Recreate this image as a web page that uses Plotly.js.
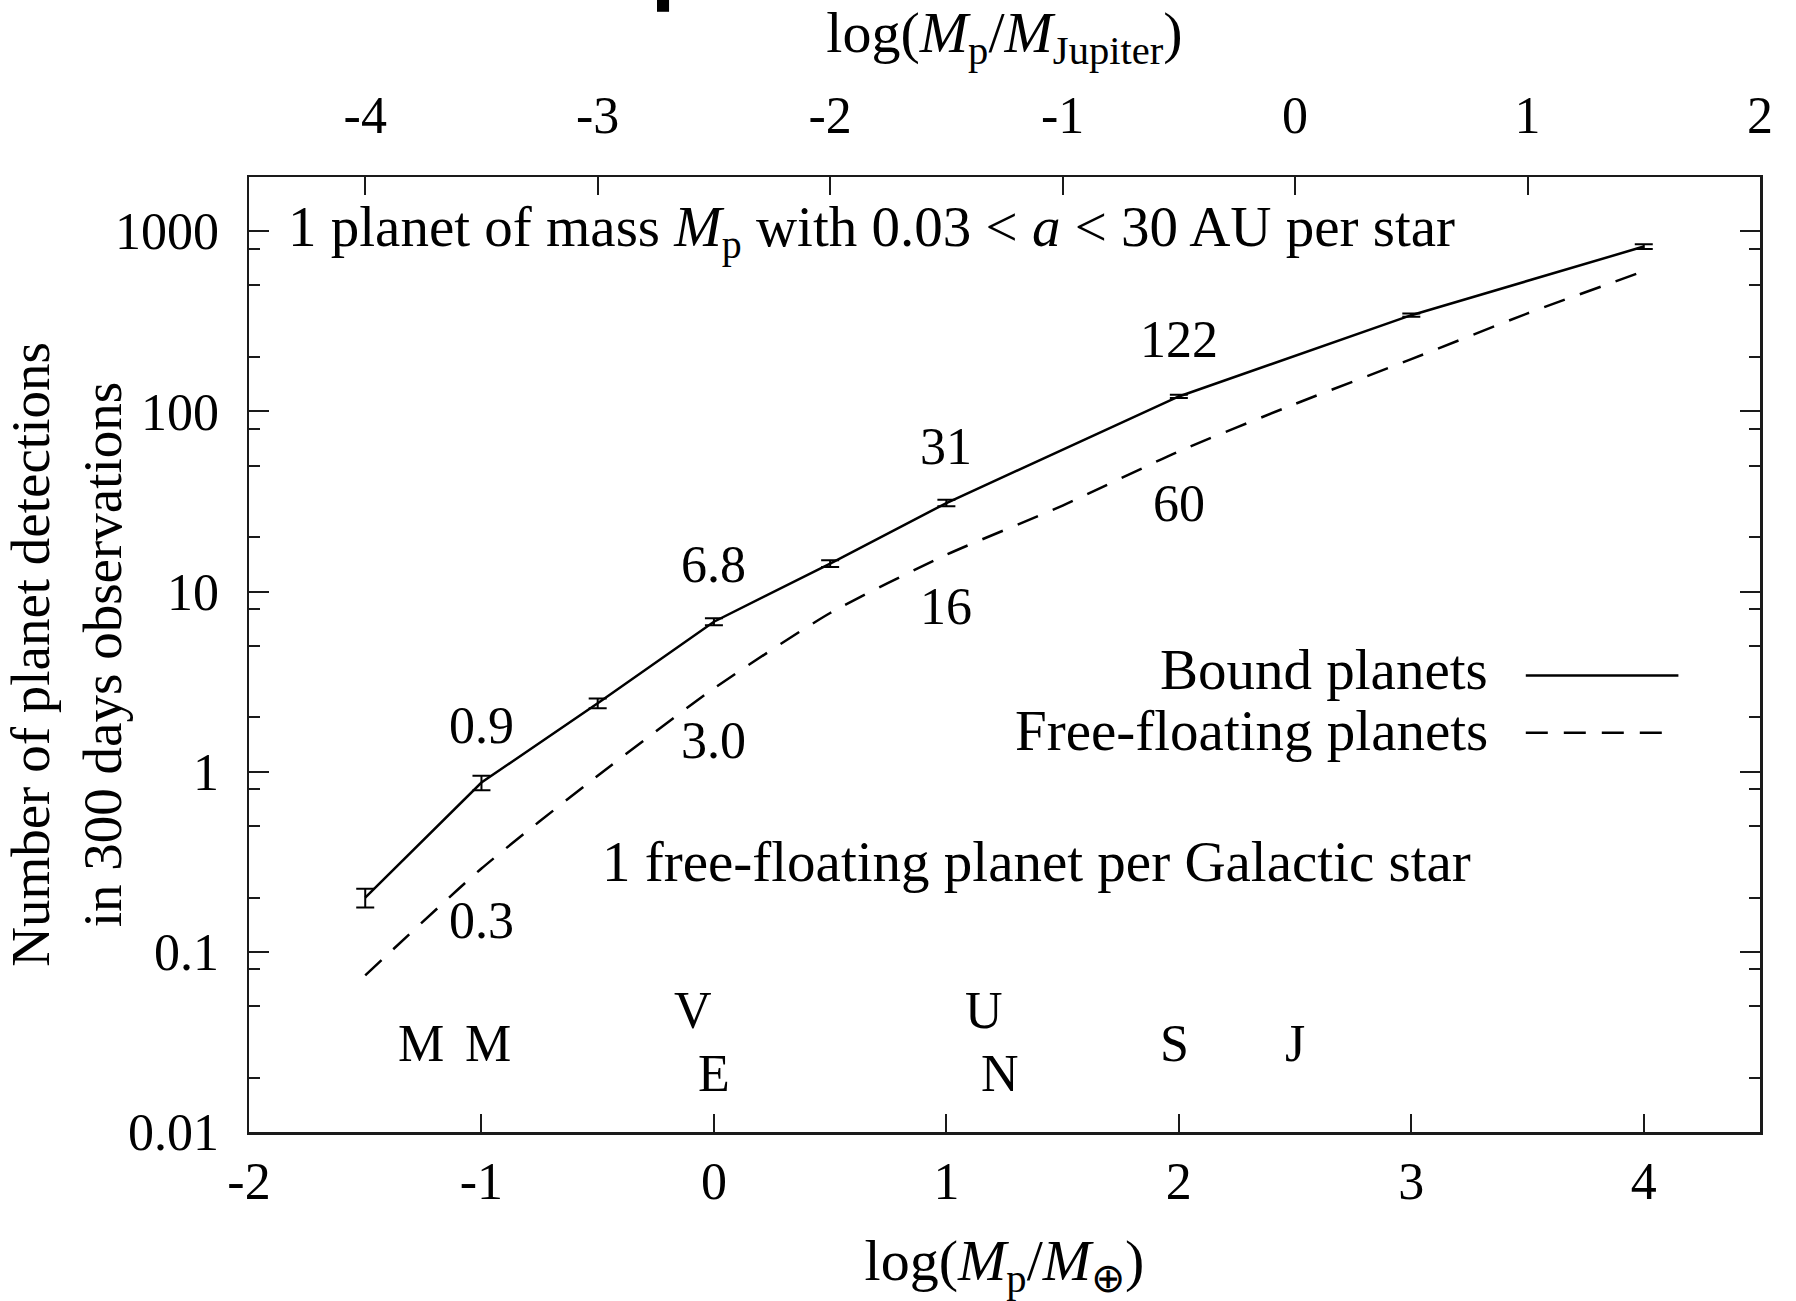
<!DOCTYPE html>
<html>
<head>
<meta charset="utf-8">
<script src="https://cdn.plot.ly/plotly-3.0.1.min.js"></script>
<style>html,body{margin:0;padding:0;background:#fff;}#chart{width:1796px;height:1301px;}</style>
</head>
<body>
<div id="chart"></div>
<script>
// ---- data (log10 of planet mass in Earth masses) ----
const boundX = [-1.5, -1, -0.5, 0, 0.5, 1, 2, 3, 4];
const boundY = [0.20, 0.87, 2.4, 6.8, 14.3, 31, 121, 342, 822];
const boundErr = [0.024, 0.08, 0.15, 0.3, 0.6, 1.3, 2.5, 7, 24];

const freeX = [-1.5, -1, -0.5, 0, 0.5, 1, 1.5, 2, 2.5, 3, 3.5, 4];
const freeY = [0.074, 0.29, 0.95, 2.9, 7.6, 16, 30, 60, 110, 195, 350, 600];

const boundLabelX = [-1, 0, 1, 2];
const boundLabelY = [0.87, 6.8, 31, 121];
const boundLabelText = ['0.9', '6.8', '31', '122'];

const freeLabelX = [-1, 0, 1, 2];
const freeLabelY = [0.29, 2.9, 16, 60];
const freeLabelText = ['0.3', '3.0', '16', '60'];

// Solar-system planets: log10(M / M_earth)
const planetNames = ['M', 'M', 'V', 'E', 'U', 'N', 'S', 'J'];
const planetLogMass = [-1.26, -0.97, -0.09, 0.0, 1.16, 1.23, 1.98, 2.50];
const planetRowY = [0.031, 0.031, 0.047, 0.021, 0.047, 0.021, 0.031, 0.031];

const xTickVals = [-2, -1, 0, 1, 2, 3, 4];
const xTopTickVals = [-4, -3, -2, -1, 0, 1, 2];
const yTickVals = [0.01, 0.1, 1, 10, 100, 1000];
const yTickText = ['0.01', '0.1', '1', '10', '100', '1000'];
const yMinorVals = [0.02, 0.05, 0.08, 0.2, 0.5, 0.8, 2, 5, 8, 20, 50, 80, 200, 500, 800];

const logMJupiter = 2.5;  // offset between the two x scales
const FONT = 'Liberation Serif, Times New Roman, serif';
const FS = 52;   // tick labels, value labels
const FT = 57;   // in-plot captions and legend
const FX = 58;   // x axis titles
const AX = '#1a1a1a';

const traces = [
  {
    x: boundX, y: boundY, type: 'scatter', mode: 'lines', name: 'Bound planets',
    line: {color: '#000', width: 2.5},
    error_y: {type: 'data', array: boundErr, visible: true, color: '#000', thickness: 2, width: 9},
    showlegend: false
  },
  {
    x: freeX, y: freeY, type: 'scatter', mode: 'lines', name: 'Free-floating planets',
    line: {color: '#000', width: 2.5, dash: '22px,16px', shape: 'spline', smoothing: 0.6},
    showlegend: false
  },
  { x: [], y: [], xaxis: 'x2', yaxis: 'y', type: 'scatter', mode: 'lines', showlegend: false, hoverinfo: 'skip' }
];

const annotations = [];
boundLabelX.forEach((x, i) => annotations.push({
  x: x, y: Math.log10(boundLabelY[i]), text: boundLabelText[i], showarrow: false,
  yshift: 57, font: {family: FONT, size: FS, color: '#000'}
}));
freeLabelX.forEach((x, i) => annotations.push({
  x: x, y: Math.log10(freeLabelY[i]), text: freeLabelText[i], showarrow: false,
  yshift: -52, font: {family: FONT, size: FS, color: '#000'}
}));
planetNames.forEach((n, i) => annotations.push({
  x: planetLogMass[i], y: Math.log10(planetRowY[i]), text: n, showarrow: false,
  font: {family: FONT, size: FS, color: '#000'}
}));
annotations.push({
  x: -1.84, y: 3, xanchor: 'left', showarrow: false,
  text: '1 planet of mass <i>M</i><sub>p</sub> with 0.03 &lt; <i>a</i> &lt; 30 AU per star',
  font: {family: FONT, size: FT, color: '#000'}
});
annotations.push({
  x: -0.49, y: Math.log10(0.316), xanchor: 'left', showarrow: false,
  text: '1 free-floating planet per Galactic star',
  font: {family: FONT, size: FT, color: '#000'}
});
// legend (gnuplot style: text on the left, sample on the right)
annotations.push({xref: 'paper', yref: 'paper', x: 0.821, y: 0.484, xanchor: 'right', showarrow: false,
  text: 'Bound planets', font: {family: FONT, size: FT, color: '#000'}});
annotations.push({xref: 'paper', yref: 'paper', x: 0.821, y: 0.420, xanchor: 'right', showarrow: false,
  text: 'Free-floating planets', font: {family: FONT, size: FT, color: '#000'}});

const shapes = [
  {type: 'line', xref: 'paper', yref: 'paper', x0: 0.845, x1: 0.946, y0: 0.478, y1: 0.478,
   line: {color: '#000', width: 2.5}},
  {type: 'line', xref: 'paper', yref: 'paper', x0: 0.845, x1: 0.936, y0: 0.418, y1: 0.418,
   line: {color: '#000', width: 2.5, dash: '22px,16px'}},
  {type: 'rect', xref: 'paper', yref: 'paper', x0: 0.270, x1: 0.278, y0: 1.173, y1: 1.19,
   line: {width: 0}, fillcolor: '#000'}
];

const layout = {
  width: 1796, height: 1301,
  margin: {l: 249, r: 36, t: 177, b: 169},
  paper_bgcolor: '#fff', plot_bgcolor: '#fff',
  font: {family: FONT, size: FS, color: '#000'},
  showlegend: false,
  xaxis: {
    range: [-2, 4.5], tickmode: 'array', tickvals: xTickVals, ticktext: xTickVals.map(String),
    ticks: 'inside', ticklen: 18, tickwidth: 2, tickcolor: AX,
    showline: true, linecolor: AX, linewidth: 2.5, mirror: true,
    showgrid: false, zeroline: false, ticklabelstandoff: 2,
    tickfont: {family: FONT, size: FS, color: '#000'},
    title: {text: 'log(<i>M</i><sub>p</sub>/<i>M</i><sub>⊕</sub>)', font: {family: FONT, size: FX, color: '#000'}, standoff: 44}
  },
  xaxis2: {
    overlaying: 'x', side: 'top', anchor: 'y',
    range: [-2 - logMJupiter, 4.5 - logMJupiter], tickmode: 'array', tickvals: xTopTickVals, ticktext: xTopTickVals.map(String),
    ticks: 'inside', ticklen: 18, tickwidth: 2, tickcolor: AX,
    showline: true, linecolor: AX, linewidth: 2.5,
    showgrid: false, zeroline: false, ticklabelstandoff: 21,
    tickfont: {family: FONT, size: FS, color: '#000'},
    title: {text: 'log(<i>M</i><sub>p</sub>/<i>M</i><sub>Jupiter</sub>)', font: {family: FONT, size: FX, color: '#000'}, standoff: 30}
  },
  yaxis: {
    type: 'log', range: [-2, Math.log10(2000)],
    tickmode: 'array', tickvals: yTickVals, ticktext: yTickText,
    ticks: 'inside', ticklen: 20, tickwidth: 2, tickcolor: AX,
    minor: {tickmode: 'array', tickvals: yMinorVals, ticks: 'inside', ticklen: 11, tickwidth: 2, tickcolor: AX, showgrid: false},
    showline: true, linecolor: AX, linewidth: 2.5, mirror: 'ticks',
    showgrid: false, zeroline: false, ticklabelstandoff: 17,
    tickfont: {family: FONT, size: FS, color: '#000'},
    title: {text: 'Number of planet detections<br>in 300 days observations', font: {family: FONT, size: 55, color: '#000'}, standoff: 14}
  },
  annotations: annotations,
  shapes: shapes
};

Plotly.newPlot('chart', traces, layout, {displayModeBar: false, staticPlot: true});
</script>
</body>
</html>
